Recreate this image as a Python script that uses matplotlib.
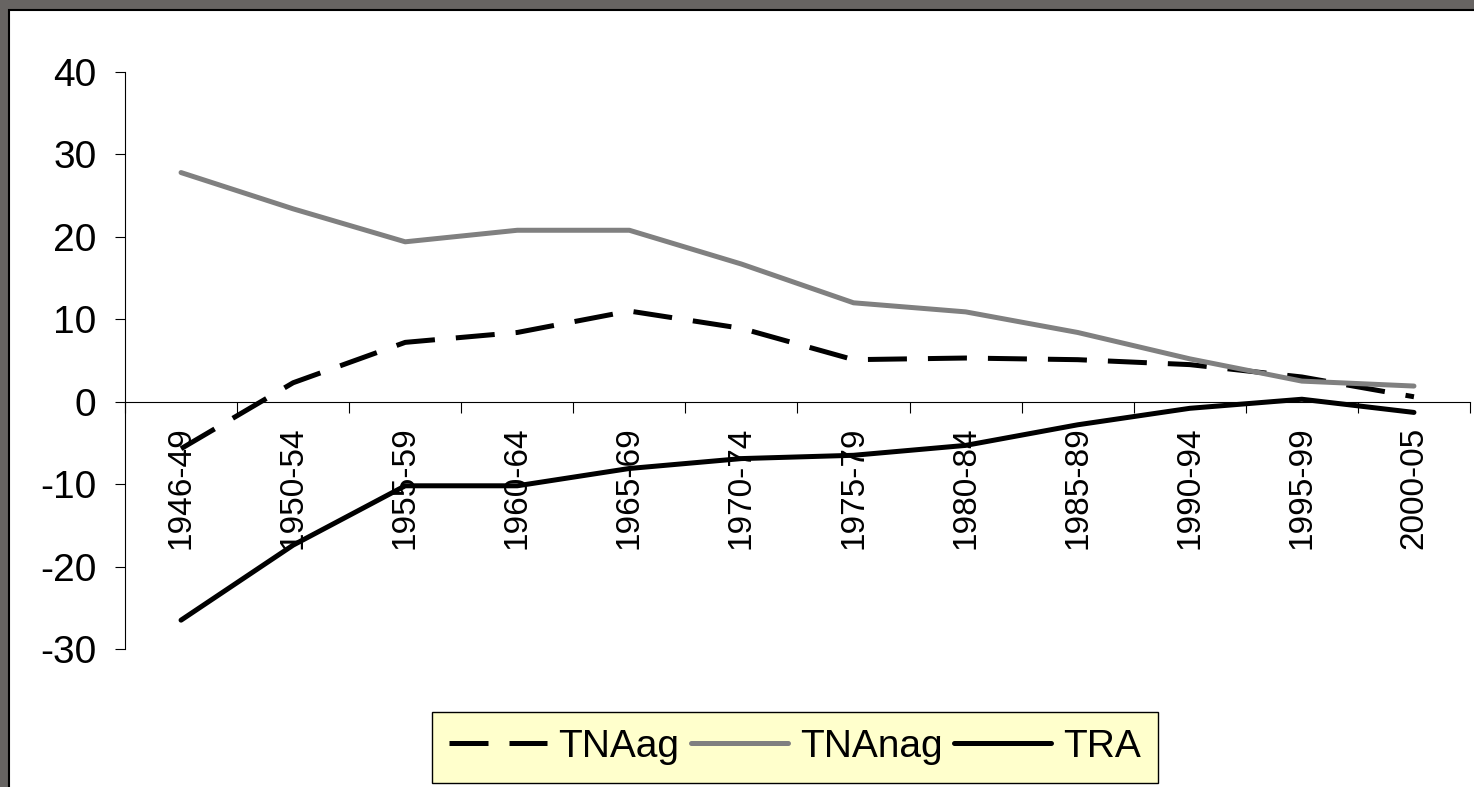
import numpy as np
import matplotlib.pyplot as plt
from matplotlib.patches import Rectangle

plt.rcParams['font.family'] = ['Liberation Sans', 'DejaVu Sans']

periods = ['1946-49', '1950-54', '1955-59', '1960-64', '1965-69', '1970-74',
           '1975-79', '1980-84', '1985-89', '1990-94', '1995-99', '2000-05']
tna_ag = [-5.7, 2.3, 7.2, 8.4, 11.0, 8.9, 5.1, 5.3, 5.1, 4.5, 3.0, 0.6]
tna_nag = [27.8, 23.4, 19.4, 20.8, 20.8, 16.7, 12.0, 10.9, 8.4, 5.2, 2.5, 1.9]
tra = [-26.5, -17.4, -10.2, -10.2, -8.1, -6.9, -6.5, -5.3, -2.8, -0.8, 0.3, -1.3]
y_ticks = [-30, -20, -10, 0, 10, 20, 30, 40]

W, H = 1474, 787
fig = plt.figure(figsize=(W / 100, H / 100), dpi=100, facecolor='#676462')
# fond blanc avec cadre noir (haut et gauche)
fig.add_artist(Rectangle((9 / W, -1), 2, 1 + (H - 10) / H, transform=fig.transFigure,
                         facecolor='white', edgecolor='black', lw=1.5, zorder=-1))

ax = fig.add_axes([125 / W, 1 - 649 / H, (1470 - 125) / W, (649 - 72) / H])
ax.patch.set_visible(False)

X = np.arange(len(periods))
ax.plot(X, tna_ag, color='black', lw=3.6, ls=(0, (7.8, 4.2)), dash_capstyle='butt', label='TNAag')
ax.plot(X, tna_nag, color='#808080', lw=3.6, solid_capstyle='round', label='TNAnag')
ax.plot(X, tra, color='black', lw=3.6, solid_capstyle='round', label='TRA')

ax.set_xlim(-0.5, len(periods) - 0.5)
ax.set_ylim(-30, 40)
ax.set_yticks(y_ticks)
ax.set_yticklabels([str(v) for v in y_ticks], fontsize=28)
ax.tick_params(axis='y', direction='out', length=7.5, width=0.8, pad=13)

ax.set_xticks(np.arange(-0.5, len(periods)), labels=[])
ax.set_xticks(X, labels=periods, minor=True)
ax.tick_params(axis='x', which='major', direction='out', length=8, width=0.8)
ax.tick_params(axis='x', which='minor', length=0, pad=18, labelsize=24, labelrotation=90)

ax.spines['bottom'].set_position(('data', 0))
ax.spines['bottom'].set_linewidth(0.8)
ax.spines['left'].set_linewidth(0.8)
ax.spines['top'].set_visible(False)
ax.spines['right'].set_visible(False)

leg = fig.legend(loc='center', bbox_to_anchor=(795 / W, 1 - 747 / H), ncol=3, fontsize=28,
                 frameon=True, fancybox=False, facecolor='#FFFFCC', edgecolor='black',
                 framealpha=1, handlelength=2.5, handletextpad=0.3, columnspacing=0.3,
                 borderpad=0.45, borderaxespad=0)
leg.get_frame().set_linewidth(1)

fig.savefig('out.png', dpi=100, facecolor=fig.get_facecolor())
